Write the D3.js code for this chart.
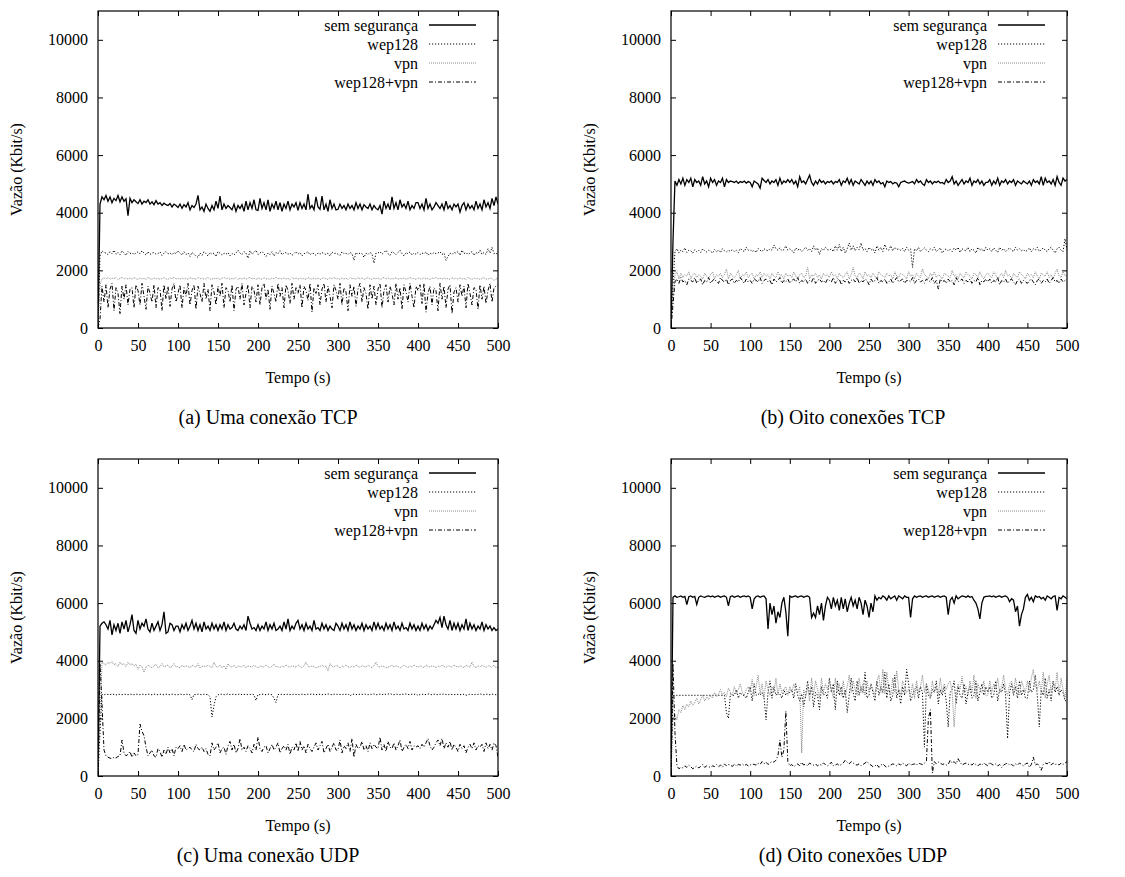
<!DOCTYPE html>
<html>
<head>
<meta charset="utf-8">
<script src="https://cdn.jsdelivr.net/npm/d3@7"></script>
<style>
body { margin: 0; background: #fff; }
svg text { font-family: "Liberation Serif", Tinos, "Times New Roman", "DejaVu Serif", serif; fill: #000; }
</style>
</head>
<body>
<div id="plot"></div>
<script>
// sampling grid (s) and labels
const tempo = d3.range(0, 501, 2.5);
const nomes = ["sem segurança", "wep128", "vpn", "wep128+vpn"];
const yTicks = [0, 2000, 4000, 6000, 8000, 10000];
const xTicks = [0, 50, 100, 150, 200, 250, 300, 350, 400, 450, 500];
const legendas = ["(a) Uma conexão TCP", "(b) Oito conexões TCP", "(c) Uma conexão UDP", "(d) Oito conexões UDP"];

// (a) Uma conexão TCP
const semA = [0,4300,4550,4450,4600,4400,4550,4350,4500,4420,4600,4380,4550,4400,4480,3900,4500,4350,4450,4380,
  4320,4450,4300,4400,4350,4450,4300,4380,4280,4420,4300,4350,4250,4330,4280,4250,4320,4200,4300,4250,
  4180,4300,4150,4280,4200,4350,4100,4250,4180,4300,4600,4100,4200,4050,4300,4150,4050,4250,4100,4400,
  4150,4580,4100,4300,4150,4250,4180,4100,4300,4050,4250,4150,4280,4050,4400,4100,4350,4150,4450,4100,
  4080,4500,4150,4350,4100,4450,4050,4300,4150,4400,4100,4350,4050,4300,4150,4400,4100,4300,4200,4350,
  4080,4350,4150,4300,4100,4650,4150,4250,4100,4550,4200,4120,4580,4100,4300,4050,4450,4150,4300,4100,
  4120,4300,4150,4250,4100,4300,4150,4250,4100,4350,4150,4300,4100,4280,4200,4150,4300,4100,4250,4150,
  4100,4250,3950,4400,4150,4300,4100,4550,4150,4350,4100,4450,4200,4300,4150,4400,4100,4250,4150,4350,
  4350,4150,4300,4100,4500,4150,4300,4100,4200,4350,4250,4150,4300,4100,4400,4150,4250,4100,4300,4200,
  4300,4020,4250,4350,4100,4300,4150,4250,4100,4400,4150,4300,4100,4450,4200,4350,4150,4500,4250,4550,
  4300];
const wepA = [0,2500,2680,2620,2600,2550,2650,2580,2700,2560,2620,2540,2680,2600,2520,2650,2580,2620,2550,2600,
  2640,2570,2680,2600,2530,2650,2550,2600,2620,2560,2580,2640,2520,2600,2650,2570,2600,2540,2620,2580,
  2680,2600,2530,2650,2550,2600,2480,2620,2560,2500,2450,2600,2520,2650,2580,2500,2620,2560,2600,2480,
  2650,2590,2530,2600,2560,2620,2500,2580,2540,2600,2700,2600,2550,2650,2600,2420,2680,2560,2620,2700,
  2550,2600,2650,2580,2480,2600,2550,2650,2500,2620,2580,2680,2540,2600,2620,2560,2600,2520,2580,2650,
  2560,2620,2500,2580,2600,2650,2540,2600,2580,2520,2600,2560,2620,2580,2550,2600,2500,2640,2580,2600,
  2560,2520,2650,2580,2600,2550,2620,2580,2350,2620,2550,2600,2580,2450,2600,2550,2620,2580,2250,2600,
  2600,2650,2560,2620,2700,2580,2520,2650,2600,2550,2620,2700,2580,2500,2620,2580,2640,2530,2600,2560,
  2620,2550,2600,2580,2640,2520,2600,2560,2620,2580,2600,2650,2550,2600,2350,2480,2600,2550,2620,2600,
  2650,2520,2700,2580,2620,2550,2600,2650,2520,2620,2580,2700,2560,2620,2550,2750,2600,2800,2580,2600,
  2550];
const vpnA = [0,1500,1700,1740,1700,1760,1690,1730,1710,1750,1680,1720,1760,1700,1740,1690,1730,1700,1750,1710,
  1680,1740,1700,1720,1680,1760,1710,1690,1740,1700,1730,1680,1720,1750,1700,1690,1740,1710,1760,1700,
  1720,1690,1740,1700,1730,1680,1750,1710,1720,1690,1760,1700,1740,1680,1720,1750,1700,1690,1730,1710,
  1740,1680,1720,1760,1700,1740,1690,1720,1700,1750,1680,1730,1700,1740,1690,1720,1760,1700,1730,1680,
  1740,1710,1690,1750,1700,1720,1680,1740,1710,1760,1700,1730,1690,1740,1700,1720,1680,1750,1700,1730,
  1690,1740,1700,1720,1680,1760,1710,1690,1740,1700,1730,1680,1720,1750,1700,1690,1740,1710,1760,1700,
  1720,1690,1740,1700,1730,1680,1750,1710,1720,1690,1760,1700,1740,1680,1720,1750,1700,1690,1730,1710,
  1740,1680,1720,1760,1700,1740,1690,1720,1700,1750,1680,1730,1700,1740,1690,1720,1760,1700,1730,1680,
  1740,1710,1690,1750,1700,1720,1680,1740,1710,1760,1700,1730,1690,1740,1700,1720,1680,1750,1700,1730,
  1690,1740,1700,1720,1680,1760,1710,1690,1740,1700,1730,1680,1720,1750,1700,1690,1740,1710,1650,1700,
  1720];
const wepVpnA = [0,300,1450,900,1500,700,1350,1550,600,1400,1200,500,1450,1000,1500,800,1350,1400,700,1500,
  1300,800,1550,1100,650,1450,1200,900,1500,700,1400,1350,600,1500,1000,1450,750,1350,1550,900,
  1200,1500,700,1400,1100,1550,800,1300,1500,650,1450,1200,900,1550,1000,1350,600,1500,1250,800,
  1450,1100,1550,700,1400,1300,900,1500,600,1350,1450,1000,1550,800,1200,1500,700,1450,1300,900,
  1500,800,1400,1550,1000,1350,650,1450,1200,900,1550,1100,1400,700,1500,1300,850,1550,1000,1400,
  1200,1500,700,1450,1300,950,1550,550,1400,1200,1500,800,1350,1550,900,1450,1100,700,1500,1300,
  1000,1550,800,1400,1250,600,1500,1100,1450,750,1350,1550,900,1400,1200,650,1500,1000,1450,800,
  1350,1550,700,1300,1500,900,1450,1200,800,1550,1000,1400,650,1500,1250,900,1550,1100,700,1450,
  1300,1500,850,1550,550,1200,1450,800,1400,1300,600,1550,1000,1450,700,1350,1500,500,1250,1400,
  900,1500,1100,1450,700,1550,1200,800,1400,1350,650,1500,1000,1450,850,1300,1550,900,1400,1450,
  1500];

// (b) Oito conexões TCP
const semB = [0,3000,5100,4950,5150,5000,5200,4950,5150,5050,5200,4900,5150,5050,5100,4950,5250,5000,5100,4900,
  5200,5050,5150,4950,5100,5050,5200,4900,5150,5050,5100,5080,5050,5100,5020,5080,5050,5100,5030,5080,
  5050,4900,5100,5050,5000,4850,5200,5120,5050,5150,5000,5100,5050,5150,4950,5200,5000,5100,5050,5150,
  5050,5150,5000,5100,4900,5250,5050,5100,5000,5150,5300,5050,4950,5100,5000,5150,5050,5100,5000,5080,
  5050,5100,5000,5080,5050,5150,4950,5100,5050,5200,5000,5150,4950,5100,5050,5000,5150,5050,4950,5100,
  5000,5100,4950,5150,5050,5100,5000,5050,4900,5100,5050,5080,5000,5050,5030,4900,5050,5080,5100,5050,
  5030,5050,5080,5000,5150,5050,5100,5000,4950,5150,5050,5100,5000,5080,5050,5100,5030,5050,5000,5150,
  5050,5100,5250,5000,5100,4950,5050,5150,5000,5100,5050,5200,4950,5100,5050,5150,5000,5100,4950,5050,
  5050,5150,4950,5100,5000,5200,4950,5100,5050,5150,5000,5100,5050,5150,4950,5100,5050,5000,5100,5050,
  5000,5100,4950,5150,5050,5100,5000,5250,4950,5200,5050,5100,5000,5150,4950,5250,5050,4950,5200,5100,
  5150];
const wepB = [0,1500,2650,2750,2600,2700,2650,2780,2620,2700,2680,2600,2720,2650,2700,2620,2750,2680,2640,2700,
  2660,2600,2720,2650,2700,2620,2750,2680,2640,2700,2660,2720,2650,2700,2620,2760,2700,2650,2800,2700,
  2720,2650,2700,2620,2760,2700,2650,2750,2700,2680,2750,2700,2880,2750,2700,2780,2680,2720,2850,2700,
  2750,2700,2600,2780,2700,2750,2650,2720,2800,2700,2750,2650,2850,2700,2780,2550,2750,2700,2800,2720,
  2700,2750,2650,2850,2700,2900,2650,2800,2600,2750,2950,2700,2850,2680,2800,2720,2950,2700,2760,2650,
  2800,2700,2750,2600,2850,2700,2800,2650,2900,2720,2700,2850,2680,2800,2720,2750,2700,2760,2650,2800,
  2700,2750,2100,2750,2680,2800,2650,2720,2780,2700,2650,2750,2700,2800,2650,2720,2780,2600,2700,2750,
  2680,2720,2650,2780,2700,2800,2620,2750,2700,2680,2800,2650,2750,2700,2600,2800,2700,2750,2650,2800,
  2700,2750,2650,2780,2700,2620,2800,2700,2750,2650,2720,2780,2700,2650,2800,2700,2750,2680,2720,2650,
  2700,2780,2650,2750,2700,2800,2650,2720,2780,2700,2650,2750,2800,2700,2600,2750,2800,2700,2650,3100,
  2700];
const vpnB = [0,1000,1850,1950,1700,1900,1750,1850,1800,1950,1700,1850,1900,1750,1850,1800,1700,1900,1800,1750,
  1850,1950,1700,1850,1800,1900,1750,1850,2050,1700,1900,1800,1750,1850,2000,1700,1850,1800,1950,1750,
  1850,1900,1700,1850,1800,1950,1750,1900,1800,1850,1700,1900,1800,1750,1950,1800,1850,1700,1900,1800,
  1850,1750,1950,1800,1700,1850,1900,1750,1800,2100,1700,1850,1800,1900,1750,1850,1700,1900,1800,1850,
  1750,1950,1800,1850,1700,1900,1800,1750,1850,1950,1700,1850,2100,1800,1750,1900,1850,1700,1950,1800,
  1850,1750,1900,1800,1700,1950,1850,1800,1750,1900,1800,1850,1700,1950,1800,1750,1900,1850,1800,1700,
  1950,1800,1850,1700,1900,1800,1750,2050,1850,1800,1700,1900,1800,1950,1750,1850,1800,1700,1900,1850,
  1800,1750,2000,1800,1850,1700,1900,1800,1750,1950,1850,1800,1700,1900,1850,1750,1950,1800,1700,1850,
  1900,1800,1750,1950,1850,1700,1800,1900,1750,2000,1800,1850,1700,1900,1800,1750,1950,1850,1800,1700,
  1900,1800,1850,1750,1950,1800,1700,1900,1850,1800,1950,1750,1850,1700,1900,2050,1800,1750,1950,1800,
  1850];
const wepVpnB = [0,800,1600,1700,1550,1750,1600,1650,1500,1700,1650,1600,1750,1550,1650,1700,1500,1650,1600,1750,
  1550,1650,1700,1600,1550,1750,1650,1600,1700,1500,1650,1700,1550,1650,1600,1750,1650,1550,1700,1600,
  1650,1550,1700,1650,1600,1750,1550,1650,1700,1600,1650,1500,1700,1600,1650,1750,1550,1650,1600,1700,
  1550,1650,1700,1600,1750,1550,1650,1600,1700,1550,1650,1600,1750,1550,1650,1700,1600,1650,1550,1700,
  1650,1600,1750,1550,1650,1700,1500,1650,1600,1700,1550,1650,1700,1600,1750,1550,1650,1600,1700,1650,
  1500,1700,1600,1650,1750,1550,1650,1600,1700,1550,1600,1700,1550,1650,1750,1600,1650,1700,1550,1650,
  1650,1600,1750,1550,1650,1700,1600,1650,1550,1700,1650,1600,1750,1550,1650,1350,1700,1600,1650,1550,
  1700,1600,1650,1500,1750,1600,1650,1700,1550,1650,1600,1700,1550,1650,1600,1750,1500,1650,1600,1700,
  1600,1700,1550,1650,1600,1750,1500,1650,1600,1700,1550,1650,1700,1600,1500,1650,1700,1550,1650,1600,
  1550,1650,1700,1600,1500,1650,1700,1550,1650,1600,1700,1550,1650,1750,1600,1650,1550,1700,1600,1650,
  1700];

// (c) Uma conexão UDP
const semC = [0,5200,5300,5350,5250,5100,5400,4900,5250,5050,5300,4950,5350,5100,5400,5000,5250,5600,5050,4950,
  5400,5100,5300,5200,5450,5100,5000,5300,5050,5200,5350,5050,5250,5700,4950,5000,5300,5250,5050,5200,
  5200,5000,5250,5100,5300,5050,5200,5400,5100,5300,5050,5250,5000,5350,5100,5200,5050,5300,5100,5250,
  5050,5250,5100,5350,5050,5250,5100,5150,5300,5100,5050,5200,5100,5250,5050,5550,5300,5100,5150,5050,
  5250,5050,5200,5100,5350,5050,5250,5100,5300,5050,5100,5200,5050,5350,5100,5450,5050,5200,5100,5300,
  5400,5100,5250,5050,5300,5100,5200,5050,5400,5100,5150,5050,5300,5100,5250,5050,5200,5100,5050,5300,
  5200,5050,5300,5100,5250,5050,5350,5100,5250,5050,5200,5100,5300,5050,5250,5100,5200,5050,5350,5100,
  5300,5100,5200,5050,5300,5100,5250,5050,5350,5100,5200,5050,5300,5100,5150,5050,5300,5100,5250,5050,
  5200,5050,5300,5100,5250,5050,5200,5100,5250,5400,5300,5500,5150,5550,5250,5100,5400,5050,5300,5100,
  5300,5050,5250,5100,5450,5050,5300,5100,5250,5050,5200,5100,5350,5050,5250,5100,5200,5050,5150,5050,
  5100];
const wepC = [0,1500,2830,2820,2840,2830,2820,2850,2830,2810,2840,2830,2820,2840,2830,2820,2840,2830,2820,2840,
  2830,2820,2840,2830,2820,2840,2830,2820,2840,2830,2820,2840,2830,2820,2840,2830,2820,2840,2830,2820,
  2820,2840,2830,2820,2840,2830,2820,2650,2830,2820,2840,2830,2820,2840,2830,2820,2750,2050,2450,2750,
  2820,2830,2840,2820,2830,2850,2820,2830,2840,2820,2830,2850,2820,2830,2840,2820,2830,2840,2820,2620,
  2830,2820,2840,2830,2820,2840,2830,2820,2700,2550,2830,2820,2840,2830,2820,2840,2830,2820,2840,2830,
  2830,2820,2840,2830,2820,2840,2830,2850,2830,2820,2840,2830,2820,2840,2830,2850,2830,2820,2840,2830,
  2840,2830,2820,2840,2830,2850,2780,2830,2840,2830,2820,2840,2830,2850,2830,2820,2840,2830,2850,2820,
  2830,2840,2820,2850,2830,2840,2860,2830,2820,2840,2830,2820,2840,2830,2850,2830,2820,2840,2830,2850,
  2790,2830,2840,2820,2830,2850,2830,2820,2840,2830,2820,2840,2830,2850,2830,2820,2840,2830,2820,2840,
  2830,2820,2840,2830,2800,2820,2840,2830,2820,2840,2830,2850,2830,2820,2840,2830,2820,2840,2830,2820,
  2830];
const vpnC = [0,2000,3950,3900,3850,3950,3900,3980,3850,3900,3800,3950,3850,3900,3800,3950,3850,3900,3820,3880,
  3700,3850,3800,3600,3780,3850,3800,3750,3820,3880,3750,3800,3900,3780,3820,3850,3750,3800,3900,3780,
  3800,3750,3850,3780,3820,3800,3750,3850,3800,3780,3900,3750,3800,3820,3780,3850,3800,3760,3950,3800,
  3780,3850,3750,3820,3700,3900,3800,3780,3850,3750,3820,3800,3780,3850,3750,3820,3800,3780,3850,3800,
  3750,3820,3800,3780,3850,3800,3750,3820,3880,3780,3800,3760,3820,3780,3850,3800,3770,3830,3800,3780,
  3850,3800,3760,3820,3950,3800,3780,3820,3800,3750,3780,3800,3850,3780,3820,3650,3900,3800,3780,3850,
  3800,3750,3820,3780,3850,3800,3760,3820,3780,3850,3800,3770,3830,3800,3780,3850,3800,3760,3820,3950,
  3800,3780,3820,3800,3750,3780,3800,3850,3780,3820,3800,3750,3780,3850,3800,3760,3820,3780,3850,3800,
  3780,3820,3800,3760,3850,3800,3780,3820,3800,3760,3820,3780,3850,3800,3770,3830,3800,3780,3850,3800,
  3780,3820,3800,3760,3850,3800,3780,3950,3800,3760,3820,3780,3850,3800,3770,3830,3800,3780,3850,3750,
  3780];
const wepVpnC = [0,3900,2500,900,700,650,620,600,650,620,680,700,1250,800,700,750,850,650,800,700,
  750,1800,1550,1400,1000,700,800,900,700,650,950,850,650,900,750,1000,800,950,700,1000,
  950,1050,850,1100,900,950,1000,900,850,1100,950,900,1000,850,950,750,700,1150,900,1000,
  1150,800,950,1000,750,1050,1200,900,1100,800,950,1300,900,1000,850,1050,950,800,1100,900,
  1350,950,850,1000,1050,800,950,1100,900,1000,1150,800,950,1050,900,1100,750,1000,900,1150,
  850,1200,900,1050,800,1100,950,850,1000,1150,900,1050,1200,800,950,1100,850,1000,1150,900,
  900,1250,800,1050,950,1150,850,1300,650,1100,950,1000,1200,900,1050,850,1150,950,1100,1000,
  950,1350,900,1100,850,1200,1000,950,1150,900,1050,1250,850,1000,1100,950,1200,900,1050,1000,
  1050,950,1100,1000,1150,1300,1050,900,1000,1150,1250,1050,1300,950,1150,1000,1200,900,1100,1000,
  850,1100,950,1050,800,1000,1100,950,1150,900,1050,1000,1100,850,1150,950,1100,900,1150,1050,
  650];

// (d) Oito conexões UDP
const semD = [0,6200,6250,6200,6220,6250,6200,6230,5950,6220,6250,6200,6230,5950,6200,6250,6220,6200,6230,6250,
  6220,6250,6200,6230,6250,6200,6230,6250,6200,5900,6230,6250,6200,6230,6250,6200,6230,6250,6220,6250,
  6200,5800,6150,6230,6250,6200,6230,6250,6150,5100,6000,5600,5900,5300,5700,5500,6000,6200,5700,4850,
  6250,6200,6230,6250,6200,6230,6250,6200,6230,6250,6200,5500,5650,5500,5900,5600,6000,5400,5900,6200,
  6100,5800,6200,5900,6100,5750,6200,5800,6150,5700,6000,6200,5900,6100,5800,6200,6000,5600,6100,5900,
  5500,6000,5700,6250,6100,6200,6150,6250,6200,6100,6250,6150,6200,6250,6100,6250,6200,6150,6250,6200,
  6200,5500,6150,6250,6200,6230,6250,6200,6230,6250,6200,6230,6250,6200,6230,6250,6200,6230,6250,6200,
  5600,6100,6200,6000,6250,6150,6200,6250,6230,6200,6250,6200,6230,6100,6000,5800,5450,6000,6200,6230,
  6230,6250,6220,6250,6200,6230,6250,6200,6230,6250,6200,6050,6150,6100,5700,5900,5200,5600,5800,6200,
  6300,6100,6200,6050,6250,6200,6230,6150,6200,6100,6250,6200,6150,6230,6250,5750,6200,6150,6250,6200,
  6150];
const wepD = [0,2800,2800,2800,2800,2800,2800,2800,2800,2800,2800,2800,2800,2800,2800,2800,2800,2800,2800,2800,
  2800,2800,2800,2800,2800,2800,2800,2800,2200,2000,2850,2800,2800,3000,2700,2900,2800,2800,2700,2900,
  3100,2600,3200,2800,2850,2800,2900,2700,1950,2900,3300,2700,3100,2800,2900,2850,2700,3000,2800,2900,
  2900,3000,2700,3200,2800,2600,2850,2400,2800,3300,2800,3100,2400,2900,2800,2300,3100,2800,2900,2700,
  3400,2900,3200,2300,3300,2800,3100,2700,3000,2200,2800,3400,2900,2600,3300,2800,3100,2900,3600,2700,
  2800,3200,2900,2600,3300,2800,3100,2900,3600,2700,3200,2600,2800,3500,2700,3000,2500,3100,2800,3700,
  3200,2600,2800,3000,3100,2700,3100,2900,1000,3200,2800,2700,3000,2900,3300,2500,3000,2800,3100,2600,
  1700,2900,3000,3300,2500,3100,2800,2700,3200,2500,2900,3100,2700,2800,3300,2600,2900,3200,2800,3100,
  2900,3100,2700,2800,3300,2600,3000,2900,3200,2800,1300,2900,3200,2800,3100,2700,3300,2800,3000,2700,
  2700,3300,2900,3000,3500,2800,1700,3000,2800,3400,2700,3000,2600,3300,2900,3100,2800,3000,2900,2600,
  2650];
const vpnD = [0,2000,2150,1950,2300,2200,2450,2300,2500,2400,2600,2450,2550,2700,2500,2650,2800,2600,2750,2650,
  2800,2700,2900,2750,2850,3000,2800,2900,2750,3050,2900,2800,3100,2850,3000,3200,2900,2800,3000,3100,
  2900,3350,2800,3100,3500,2850,3200,2700,3300,3000,2800,3100,2900,3400,2800,3200,2900,3000,3100,2800,
  3100,2900,3200,3050,2900,3100,800,3000,2750,3100,2600,3400,2800,3300,3000,2700,3400,2900,3200,3000,
  3300,3000,2700,3400,2900,3200,2800,3300,2750,3100,3500,2900,3300,3000,2800,3400,2900,3200,2800,3300,
  2900,3200,3000,2800,3300,3500,2900,3700,2850,3600,3000,2800,3400,2900,3650,3000,2800,3300,3100,2900,
  3000,2800,3200,2700,3300,2900,3100,3500,2900,3200,3000,2700,3300,2900,3100,2800,3400,2900,3200,3000,
  3200,3300,2900,1700,2800,3200,3000,3450,2900,3100,2800,3300,2900,3500,2700,3200,3000,2900,3300,2800,
  2800,3300,2900,3200,3000,3400,2900,3100,3500,3000,2800,3200,3300,2900,3400,3000,2800,3300,3100,2900,
  3300,2900,3400,3700,3100,3000,3300,2900,3600,2700,3200,3500,2900,3300,3000,3600,2800,3400,3000,2700,
  3400];
const wepVpnD = [0,3900,1500,350,250,300,280,350,300,380,320,250,300,350,280,330,400,300,350,320,
  300,350,330,400,320,380,300,420,350,400,380,330,420,350,400,380,420,360,400,350,
  380,420,400,380,450,400,500,420,480,400,450,500,480,550,700,1250,650,900,2250,500,
  350,400,320,380,420,350,480,380,420,350,450,400,380,420,350,400,380,450,400,350,
  400,480,350,380,420,360,400,450,550,480,420,500,450,400,380,420,350,400,450,500,
  420,380,320,350,400,300,380,420,350,300,350,380,420,400,350,420,380,450,400,350,
  450,380,400,420,380,450,420,400,450,500,2000,2300,100,500,420,480,450,400,420,380,
  400,550,450,500,420,600,480,380,420,450,400,420,380,450,400,350,420,380,450,400,
  350,480,400,380,420,350,400,300,380,420,450,380,400,350,420,380,450,400,350,420,
  450,300,400,650,380,420,350,200,400,450,420,500,380,450,400,420,380,450,400,450,
  500];

const panels = [
  {left: 98,  top: 11,  width: 400, capX: 268, capY: 96, caption: legendas[0], series: [semA, wepA, vpnA, wepVpnA]},
  {left: 671, top: 11,  width: 396, capX: 853, capY: 96, caption: legendas[1], series: [semB, wepB, vpnB, wepVpnB]},
  {left: 98,  top: 459, width: 400, capX: 268, capY: 86, caption: legendas[2], series: [semC, wepC, vpnC, wepVpnC]},
  {left: 671, top: 459, width: 396, capX: 853, capY: 86, caption: legendas[3], series: [semD, wepD, vpnD, wepVpnD]}
];
const plotHeight = 317;

const estilos = [
  {stroke: "#000", width: 1.3, dash: null},
  {stroke: "#000", width: 1, dash: "1.2,1.8"},
  {stroke: "#8a8a8a", width: 1, dash: "1,1"},
  {stroke: "#000", width: 1, dash: "4,2,1,2"}
];

const fonte = '"Liberation Serif", Tinos, "Times New Roman", "DejaVu Serif", serif';

var svg = d3.select("#plot")
  .append("svg")
  .attr("width", 1125)
  .attr("height", 877)
  .attr("font-family", fonte)
  .style("background", "#fff");

panels.forEach(function(p, k) {
  var g = svg.append("g")
    .attr("transform", "translate(" + p.left + "," + p.top + ")");

  var x = d3.scaleLinear().domain([0, 500]).range([0, p.width]);
  var y = d3.scaleLinear().domain([0, 11000]).range([plotHeight, 0]);

  g.append("clipPath").attr("id", "clip" + k)
    .append("rect").attr("width", p.width).attr("height", plotHeight);

  // series
  var line = d3.line()
    .defined(function(d, i) { return i < tempo.length; })
    .x(function(d, i) { return x(tempo[i]); })
    .y(function(d) { return y(d); });

  p.series.forEach(function(vals, s) {
    g.append("path")
      .datum(vals)
      .attr("clip-path", "url(#clip" + k + ")")
      .attr("fill", "none")
      .attr("stroke", estilos[s].stroke)
      .attr("stroke-width", estilos[s].width)
      .attr("stroke-dasharray", estilos[s].dash)
      .attr("d", line);
  });

  // axes, gnuplot style: ticks inside, mirrored
  var ax = g.append("g")
    .attr("transform", "translate(0," + plotHeight + ")")
    .call(d3.axisBottom(x).tickValues(xTicks).tickFormat(d3.format("d"))
      .tickSizeInner(-5).tickSizeOuter(0).tickPadding(12));
  var ay = g.append("g")
    .call(d3.axisLeft(y).tickValues(yTicks).tickFormat(d3.format("d"))
      .tickSizeInner(-5).tickSizeOuter(0).tickPadding(10));
  g.append("g")
    .call(d3.axisTop(x).tickValues(xTicks).tickSizeInner(-5).tickSizeOuter(0).tickFormat(""));
  g.append("g")
    .attr("transform", "translate(" + p.width + ",0)")
    .call(d3.axisRight(y).tickValues(yTicks).tickSizeInner(-5).tickSizeOuter(0).tickFormat(""));

  g.selectAll(".domain").remove();
  g.selectAll(".tick line").attr("stroke", "#000");
  [ax, ay].forEach(function(a) {
    a.attr("font-family", fonte).attr("font-size", 16);
    a.selectAll("text").attr("fill", "#000");
  });

  g.append("rect")
    .attr("width", p.width)
    .attr("height", plotHeight)
    .attr("fill", "none")
    .attr("stroke", "#000")
    .attr("stroke-width", 1.2);

  // labels
  g.append("text")
    .attr("x", p.width / 2)
    .attr("y", plotHeight + 55)
    .attr("text-anchor", "middle")
    .attr("font-size", 16)
    .text("Tempo (s)");

  g.append("text")
    .attr("transform", "translate(-76," + plotHeight / 2 + ") rotate(-90)")
    .attr("text-anchor", "middle")
    .attr("font-size", 16)
    .text("Vazão (Kbit/s)");

  svg.append("text")
    .attr("x", p.capX)
    .attr("y", p.top + plotHeight + p.capY)
    .attr("text-anchor", "middle")
    .attr("font-size", 20)
    .text(p.caption);

  // legend
  nomes.forEach(function(n, s) {
    var ly = 14 + 19 * s;
    g.append("text")
      .attr("x", p.width - 80)
      .attr("y", ly)
      .attr("dy", "0.35em")
      .attr("text-anchor", "end")
      .attr("font-size", 16)
      .text(n);
    g.append("line")
      .attr("x1", p.width - 69).attr("x2", p.width - 22)
      .attr("y1", ly).attr("y2", ly)
      .attr("stroke", estilos[s].stroke)
      .attr("stroke-width", estilos[s].width)
      .attr("stroke-dasharray", estilos[s].dash);
  });
});
</script>
</body>
</html>
